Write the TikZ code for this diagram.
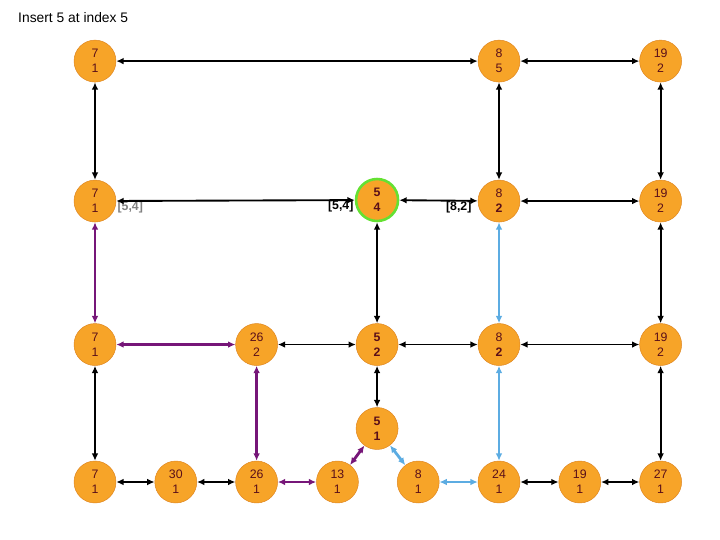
\documentclass[tikz,border=0pt]{standalone}
\usepackage{fontspec}
\setmainfont{Liberation Sans}
\usepackage{xcolor}
\usetikzlibrary{arrows.meta,positioning}

\definecolor{nodefill}{RGB}{247,164,40}
\definecolor{nodeline}{RGB}{222,132,30}
\definecolor{nodetext}{RGB}{90,15,25}
\definecolor{pathpurple}{RGB}{118,22,120}
\definecolor{pathblue}{RGB}{92,172,226}
\definecolor{newgreen}{RGB}{100,225,50}

\begin{document}
\begin{tikzpicture}[
    node distance=1.15cm and 1.15cm,
    cell/.style={circle, draw=nodeline, fill=nodefill, minimum size=1.26cm, inner sep=0pt, align=center, text=nodetext, font=\fontsize{10.5}{12.8}\selectfont},
    fresh/.style={cell, draw=newgreen, line width=2.2pt},
    link/.style={{Latex[length=2.2mm,width=2mm]}-{Latex[length=2.2mm,width=2mm]}, line width=1.6pt},
    hot/.style={link, draw=pathpurple, line width=2.4pt},
    cold/.style={link, draw=pathblue, line width=2.4pt},
    tag/.style={font=\fontsize{10.5}{12}\bfseries\selectfont, inner sep=1pt}
  ]
  \useasboundingbox (0,0) rectangle (21.6,-16.2);
  \node[anchor=west, inner sep=0pt, font=\fontsize{11.8}{14}\selectfont] (title) at (0.54,-0.54) {Insert 5 at index 5};

  % Level 0
  \node[cell] (b7) at (2.85,-14.46) {7\\1};
  \node[cell, right=of b7] (b30) {30\\1};
  \node[cell, right=of b30] (b26) {26\\1};
  \node[cell, right=of b26] (b13) {13\\1};
  \node[cell, right=of b13] (b8) {8\\1};
  \node[cell, right=of b8] (b24) {24\\1};
  \node[cell, right=of b24] (b19) {19\\1};
  \node[cell, right=of b19] (b27) {27\\1};

  % Level 1
  \node[cell, above=2.85cm of b7] (m7) {7\\1};
  \node[cell, above=2.85cm of b26] (m26) {26\\2};
  \node[cell, right=2.34cm of m26] (m5) {\textbf{5}\\\textbf{2}};
  \node[cell, above=2.85cm of b24] (m8) {8\\\textbf{2}};
  \node[cell, above=2.85cm of b27] (m19) {19\\2};
  \node[cell, below=1.245cm of m5] (b5) {\textbf{5}\\\textbf{1}};

  % Level 2
  \node[cell, above=3.03cm of m7] (u7) {7\\1};
  \node[fresh, above=3.03cm of m5] (u5) {\textbf{5}\\\textbf{4}};
  \node[cell, above=3.03cm of m8] (u8) {8\\\textbf{2}};
  \node[cell, above=3.03cm of m19] (u19) {19\\2};
  \node[tag, text=gray, anchor=west] at ([yshift=-0.2cm]u7.east) {[5,4]};
  \node[tag, anchor=east] at ([yshift=-0.2cm]u5.west) {[5,4]};
  \node[tag, anchor=east] at ([xshift=-0.15cm,yshift=-0.2cm]u8.west) {[8,2]};

  % Level 3
  \node[cell, above=2.925cm of u7] (t7) {7\\1};
  \node[cell, above=2.925cm of u8] (t8) {8\\5};
  \node[cell, above=2.925cm of u19] (t19) {19\\2};

  % Links
  \draw[link] (t7) -- (t8);
  \draw[link] (t8) -- (t19);
  \draw[link] (t7) -- (u7);
  \draw[link] (t8) -- (u8);
  \draw[link] (t19) -- (u19);
  \draw[link] (u7) -- (u5);
  \draw[link] (u5) -- (u8);
  \draw[link] (u8) -- (u19);
  \draw[link] (u5) -- (m5);
  \draw[link] (u19) -- (m19);
  \draw[link] (m26) -- (m5);
  \draw[link] (m5) -- (m8);
  \draw[link] (m8) -- (m19);
  \draw[link] (m7) -- (b7);
  \draw[link] (m5) -- (b5);
  \draw[link] (m19) -- (b27);
  \draw[link] (b7) -- (b30);
  \draw[link] (b30) -- (b26);
  \draw[link] (b24) -- (b19);
  \draw[link] (b19) -- (b27);

  % Search path
  \draw[hot] (u7) -- (m7);
  \draw[hot] (m7) -- (m26);
  \draw[hot] (m26) -- (b26);
  \draw[hot] (b26) -- (b13);
  \draw[hot] (b13) -- (b5);
  \draw[cold] (u8) -- (m8);
  \draw[cold, line width=1.8pt] (m8) -- (b24);
  \draw[cold] (b5) -- (b8);
  \draw[cold] (b8) -- (b24);
\end{tikzpicture}
\end{document}
